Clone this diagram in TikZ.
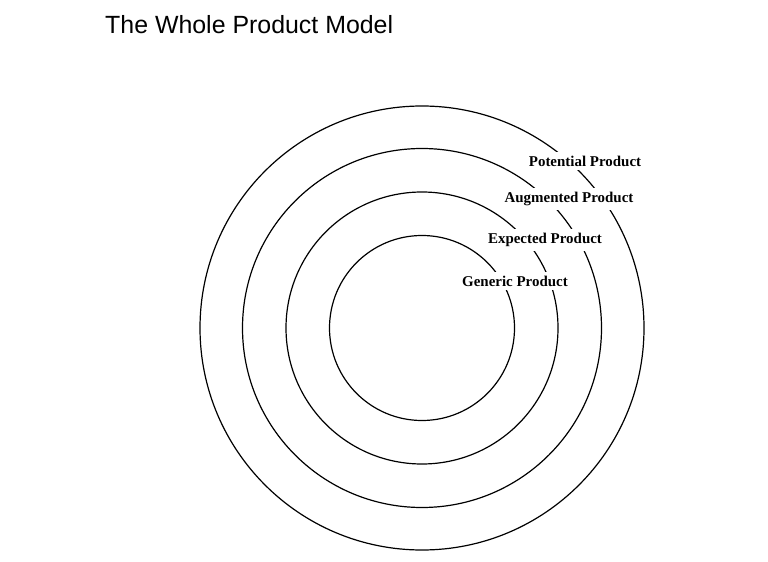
\documentclass[tikz,border=0pt]{standalone}
\usepackage{fontspec}
\setmainfont{Liberation Serif}
\newfontfamily\titlefont{Liberation Sans}
\usetikzlibrary{positioning}

\begin{document}
\begin{tikzpicture}[
    x=1bp, y=-1bp,
    ring/.style={draw, circle, line width=1.2bp, inner sep=0pt},
    tag/.style={fill=white, inner xsep=2bp, inner ysep=4bp, font=\fontsize{15}{17}\selectfont\bfseries}
]
\useasboundingbox[fill=white] (0,0) rectangle (768,562);

\node[anchor=base west, inner sep=0pt, font=\titlefont\fontsize{25}{30}\selectfont] (title) at (105,34) {The Whole Product Model};

% rings, outside in
\coordinate (c) at (422,328);
\node[ring, minimum size=444bp] (potential) at (c) {};
\node[ring, minimum size=359bp] (augmented) at (c) {};
\node[ring, minimum size=272bp] (expected) at (c) {};
\node[ring, minimum size=185bp] (generic) at (c) {};

% labels sit on top of the rings
\node[tag] (potentialtag) at (585,161) {Potential Product};
\node[tag] (augmentedtag) at (569,199) {Augmented Product};
\node[tag] (expectedtag) at (545,240) {Expected Product};
\node[tag] (generictag) at (515,281) {Generic Product};
\end{tikzpicture}
\end{document}
